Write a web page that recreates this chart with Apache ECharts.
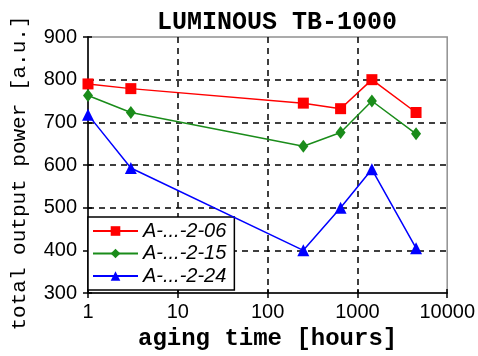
<!DOCTYPE html>
<html>
<head>
<meta charset="utf-8">
<script src="https://cdn.jsdelivr.net/npm/echarts@6/dist/echarts.min.js"></script>
<style>html,body{margin:0;padding:0;background:#fff}#c{width:478px;height:356px}</style>
</head>
<body>
<div id="c"></div>
<script>
const title = 'LUMINOUS TB-1000';
const xName = 'aging time [hours]';
const yName = 'total output power [a.u.]';
const hours = [1, 3, 250, 650, 1450, 4500];
const names = ['A-...-2-06', 'A-...-2-15', 'A-...-2-24'];
const s06 = [790, 779, 745, 732, 800, 723];
const s15 = [763, 723, 644, 676, 750, 673];
const s24 = [718, 593, 400, 500, 590, 405];
const colors = ['#ff0000', '#1a8c1a', '#0000ff'];
const symbols = ['rect', 'diamond', 'triangle'];
const sizes = [11, [10, 13], 12];

const chart = echarts.init(document.getElementById('c'), null, {renderer: 'canvas'});
const mono = '"Liberation Mono", "Courier New", monospace';
const sans = '"Liberation Sans", Arial, sans-serif';
const grid = {left: 88, right: 21, top: 37, bottom: 61};
const seriesData = [s06, s15, s24];
const dash = {color: '#000', type: [6, 5], width: 1.5};
const tickStyle = {color: '#000', width: 1.5};

chart.setOption({
  animation: false,
  backgroundColor: '#fff',
  title: {
    text: title, left: 272, top: 5, textAlign: 'center',
    textStyle: {fontFamily: mono, fontWeight: 'bold', fontSize: 25, color: '#000'}
  },
  grid: Object.assign({show: true, borderColor: '#909090', borderWidth: 1.5, backgroundColor: 'transparent'}, grid),
  legend: {
    orient: 'vertical', left: 88, top: 217,
    backgroundColor: '#fff', borderColor: '#000', borderWidth: 1.5,
    padding: [4, 8, 4, 4], itemGap: 2.5, itemWidth: 45, itemHeight: 12,
    textStyle: {fontFamily: sans, fontStyle: 'italic', fontSize: 20, lineHeight: 20, color: '#000'},
    data: names
  },
  xAxis: [{
    type: 'log', logBase: 10, min: 1, max: 10000,
    name: xName, nameLocation: 'middle', nameGap: 34,
    nameTextStyle: {fontFamily: mono, fontWeight: 'bold', fontSize: 24, color: '#000'},
    axisLine: {lineStyle: {color: '#000', width: 1.5}},
    axisTick: {show: true, inside: false, length: 5, lineStyle: tickStyle},
    minorTick: {show: false},
    axisLabel: {fontFamily: sans, fontSize: 20, color: '#000', margin: 9, formatter: v => String(v)},
    splitLine: {show: true, showMinLine: false, showMaxLine: false, lineStyle: dash}
  }, {
    type: 'log', logBase: 10, min: 1, max: 10000, position: 'bottom',
    axisLine: {show: false},
    axisTick: {show: true, inside: true, length: 4, lineStyle: tickStyle},
    axisLabel: {show: false}, splitLine: {show: false}
  }],
  yAxis: [{
    type: 'value', min: 300, max: 900, interval: 100,
    name: yName, nameLocation: 'middle', nameGap: 58,
    nameTextStyle: {fontFamily: mono, fontSize: 21, color: '#000', padding: [0, 16, 0, 0]},
    axisLine: {show: true, lineStyle: {color: '#000', width: 1.5}},
    axisTick: {show: true, inside: false, length: 5, lineStyle: tickStyle},
    axisLabel: {fontFamily: sans, fontSize: 20, color: '#000', margin: 11},
    splitLine: {show: true, showMinLine: false, showMaxLine: false, lineStyle: dash}
  }, {
    type: 'value', min: 300, max: 900, interval: 100, position: 'left',
    axisLine: {show: false},
    axisTick: {show: true, inside: true, length: 4, lineStyle: tickStyle},
    axisLabel: {show: false}, splitLine: {show: false}
  }],
  series: seriesData.map((vals, i) => ({
    name: names[i], type: 'line', clip: false,
    xAxisIndex: 0, yAxisIndex: 0,
    data: hours.map((h, j) => [h, vals[j]]),
    symbol: symbols[i], symbolSize: sizes[i],
    lineStyle: {color: colors[i], width: 1.5},
    itemStyle: {color: colors[i]},
    z: 3 + i
  }))
});
</script>
</body>
</html>
